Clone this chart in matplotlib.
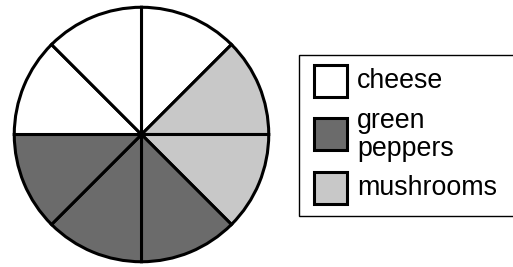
import matplotlib.pyplot as plt
from matplotlib.patches import Rectangle

plt.rcParams['font.family'] = ['Liberation Sans', 'DejaVu Sans']

# eight equal slices, clockwise from 12 o'clock
slices = ['cheese', 'mushrooms', 'mushrooms', 'green peppers',
          'green peppers', 'green peppers', 'cheese', 'cheese']
slice_sizes = [1, 1, 1, 1, 1, 1, 1, 1]
toppings = ['cheese', 'green peppers', 'mushrooms']
legend_labels = ['cheese', 'green\npeppers', 'mushrooms']
topping_colors = ['#ffffff', '#6b6b6b', '#c8c8c8']

color_of = dict(zip(toppings, topping_colors))

fig = plt.figure(figsize=(5.13, 2.67), dpi=100)
ax = fig.add_axes([13 / 513, 4 / 267, 257 / 513, 257 / 267])
ax.pie(slice_sizes, colors=[color_of[s] for s in slices], startangle=90,
       counterclock=False, radius=1,
       wedgeprops=dict(edgecolor='black', linewidth=2.2))
ax.set_xlim(-1.01, 1.01)
ax.set_ylim(-1.01, 1.01)
ax.set_aspect('equal')
ax.axis('off')

# legend drawn in pixel coordinates
lg = fig.add_axes([0, 0, 1, 1])
lg.set_xlim(0, 513)
lg.set_ylim(267, 0)
lg.axis('off')
lg.add_patch(Rectangle((299, 54.5), 230, 161, facecolor='white',
                       edgecolor='black', linewidth=1, clip_on=False))
square_tops = [65, 118, 172]
text_y = [81, 135, 188]
for top, ty, label, color in zip(square_tops, text_y, legend_labels, topping_colors):
    lg.add_patch(Rectangle((313.5, top), 33.5, 32, facecolor=color,
                           edgecolor='black', linewidth=2.2))
    lg.text(357, ty, label, fontsize=19.3, va='center', ha='left',
            linespacing=1.08)

fig.savefig('out.png', dpi=100)
